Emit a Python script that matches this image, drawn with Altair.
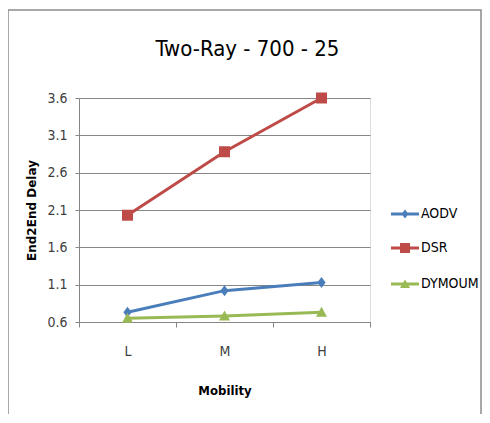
import altair as alt
import pandas as pd

categories = ["L", "M", "H"]
series_names = ["AODV", "DSR", "DYMOUM"]
aodv = [0.73, 1.02, 1.13]
dsr = [2.03, 2.88, 3.6]
dymoum = [0.65, 0.68, 0.73]
y_ticks = [0.6, 1.1, 1.6, 2.1, 2.6, 3.1, 3.6]
colors = ["#4a7ebb", "#be4b48", "#98b954"]
marker_shapes = ["M0,-1L0.75,0L0,1L-0.75,0Z", "square", "M0,-1L1,0.8H-1Z"]
legend_paths = [
    "M-2.8,-0.3H2.8V0.3H-2.8Z M0,-0.9L0.7,0L0,0.9L-0.7,0Z",
    "M-2.8,-0.3H2.8V0.3H-2.8Z M-1,-1H1V1H-1Z",
    "M-2.8,-0.3H2.8V0.3H-2.8Z M0,-0.9L1,0.8H-1Z",
]
legend_rows_y = [109, 143, 179]

rows = []
for name, vals in zip(series_names, [aodv, dsr, dymoum]):
    for c, v in zip(categories, vals):
        rows.append({"Mobility": c, "series": name, "value": v})
df = pd.DataFrame(rows)

NARROW = "Liberation Sans Narrow, DejaVu Sans Condensed, sans-serif"

x_enc = alt.X("Mobility:N", sort=categories,
              scale=alt.Scale(type="band", paddingInner=0, paddingOuter=0),
              axis=alt.Axis(title="Mobility", labelAngle=0, tickBand="extent", grid=False,
                            domainColor="#868686", tickColor="#868686", tickSize=5,
                            labelFont=NARROW, labelFontSize=14, labelColor="#404040",
                            labelPadding=17, titleFont="DejaVu Sans Condensed, sans-serif",
                            titleFontSize=13, titleFontWeight="bold", titlePadding=26,
                            titleColor="#000000"))
y_enc = alt.Y("value:Q",
              scale=alt.Scale(domain=[0.6, 3.6], nice=False, zero=False),
              axis=alt.Axis(title="End2End Delay", values=y_ticks, format=".1f",
                            grid=True, gridColor="#868686", gridWidth=1,
                            domainColor="#868686", tickColor="#868686", tickSize=4,
                            labelFont=NARROW, labelFontSize=14, labelColor="#404040",
                            labelPadding=8, titleFont="DejaVu Sans, sans-serif",
                            titleFontSize=12, titleFontWeight="bold", titlePadding=8,
                            titleColor="#000000"))

base = alt.Chart(df)

lines = base.mark_line(strokeWidth=3).encode(
    x=x_enc, y=y_enc,
    stroke=alt.Stroke("series:N", scale=alt.Scale(domain=series_names, range=colors),
                      legend=None),
)

marker_layers = []
legend_layers = []
for name, shp, col, lpath, ly in zip(series_names, marker_shapes, colors,
                                     legend_paths, legend_rows_y):
    sub = base.transform_filter(alt.datum.series == name)
    marker_layers.append(
        sub.mark_point(filled=True, opacity=1, strokeWidth=0, shape=shp, size=121, color=col)
        .encode(x=x_enc, y=y_enc)
    )
    legend_layers.append(
        sub.mark_point(filled=True, opacity=0, strokeWidth=0, color=col)
        .encode(
            x=x_enc, y=y_enc,
            shape=alt.Shape("series:N",
                            scale=alt.Scale(domain=[name], range=[lpath]),
                            legend=alt.Legend(title=None, orient="none", legendX=319,
                                              legendY=ly, symbolSize=100, symbolOpacity=1,
                                              symbolStrokeWidth=0, symbolFillColor=col,
                                              labelFont=NARROW, labelFontSize=14,
                                              labelColor="#000000", labelOffset=9)),
        )
    )

border = alt.Chart(alt.Data(values=[{}])).mark_rect(
    fill="transparent", stroke="#8c8c8c", strokeWidth=1.5
).encode(x=alt.value(-71), x2=alt.value(402), y=alt.value(-88), y2=alt.value(340))

chart = alt.layer(border, lines, *marker_layers, *legend_layers).resolve_scale(
    shape="independent"
).properties(
    width=291, height=224,
    title=alt.TitleParams("Two-Ray - 700 - 25", font=NARROW, fontSize=22,
                          fontWeight="normal", color="#000000", anchor="middle",
                          dx=23, offset=0, dy=52),
    autosize=alt.AutoSizeParams(type="none"),
    padding={"left": 71, "top": 90, "right": 112, "bottom": 92},
).configure_view(stroke=None).configure(background="white")

chart.save("out.html", embed_options={"renderer": "svg", "actions": False})
